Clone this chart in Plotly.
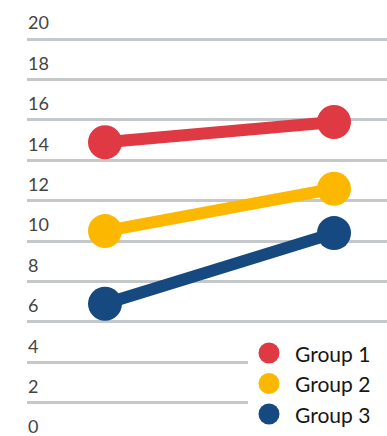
import plotly.graph_objects as go

# Two measurement points per group
stages = ["Before", "After"]
group_names = ["Group 1", "Group 2", "Group 3"]
group1 = [13.9, 14.9]
group2 = [9.5, 11.6]
group3 = [5.9, 9.4]
series = [group1, group2, group3]
colors = ["#df3944", "#fcb800", "#15497f"]

# Axis labels and grid
y_ticks = list(range(0, 21, 2))
y_grid = list(range(1, 20, 2))

W, H = 387, 436
left = 27

fig = go.Figure()
for name, vals, col in zip(group_names, series, colors):
    fig.add_trace(go.Scatter(
        x=stages, y=vals, name=name, mode="lines+markers",
        line=dict(color=col, width=12),
        marker=dict(color=col, size=34, line=dict(width=0)),
        showlegend=False, hoverinfo="skip",
    ))

# Custom legend: white panel, large dots and labels
shapes = [dict(type="rect", xref="paper", yref="paper",
               x0=(248 - left) / (W - left), x1=1, y0=0, y1=1 - 335 / H,
               fillcolor="white", line=dict(width=0), layer="above")]
annotations = []
row_px = [353, 383.5, 414]
for name, col, ypx in zip(group_names, colors, row_px):
    xp = (269 - left) / (W - left)
    yp = 1 - ypx / H
    shapes.append(dict(type="circle", xref="paper", yref="paper",
                       xsizemode="pixel", ysizemode="pixel",
                       xanchor=xp, yanchor=yp, x0=-10.5, x1=10.5, y0=-10.5, y1=10.5,
                       fillcolor=col, line=dict(width=0), layer="above"))
    annotations.append(dict(xref="paper", yref="paper", x=(293 - left) / (W - left), y=yp,
                            xanchor="left", yanchor="middle", showarrow=False,
                            text=name, font=dict(family="Lato", size=21, color="#161616")))

fig.update_layout(
    width=W, height=H,
    margin=dict(l=left, r=0, t=0, b=0),
    paper_bgcolor="white", plot_bgcolor="white",
    font=dict(family="Lato", size=18, color="#161616"),
    shapes=shapes, annotations=annotations,
    xaxis=dict(type="category", range=[-0.3406, 1.2314], visible=False),
    yaxis=dict(
        range=[-0.644, 20.94],
        tickmode="array", tickvals=y_ticks, ticktext=[str(v) for v in y_ticks],
        ticklabelposition="inside", ticklabeloverflow="allow",
        ticks="", showgrid=False, zeroline=False,
        showline=False, ticklabelshift=4, ticklabelstandoff=-2,
        minor=dict(tickmode="array", tickvals=y_grid, showgrid=True,
                   gridcolor="#c4c8ca", gridwidth=2.5, ticks=""),
    ),
)

fig.write_html("out.html")
